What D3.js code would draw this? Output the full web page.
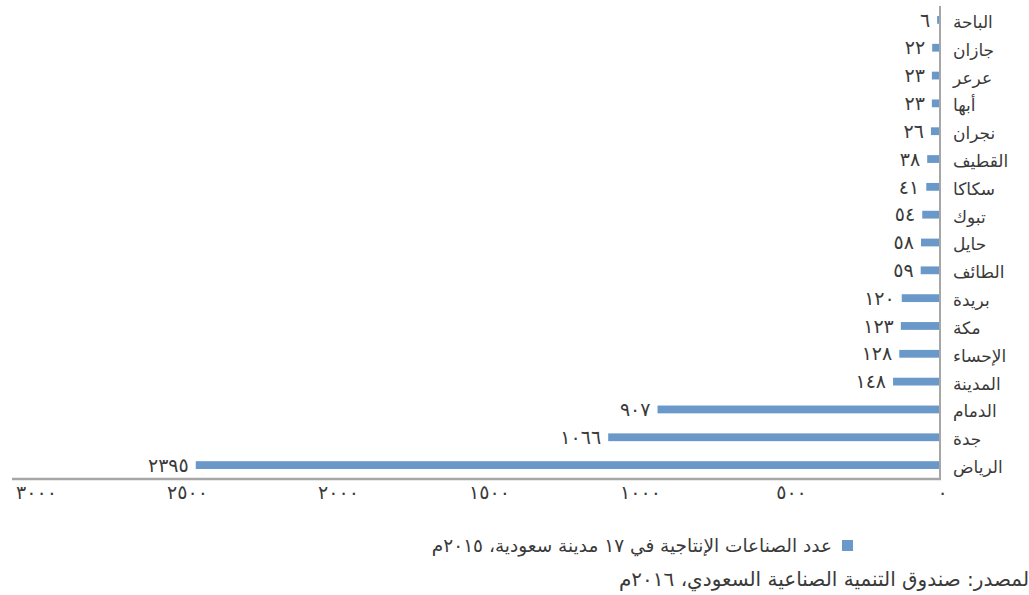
<!DOCTYPE html>
<html lang="ar">
<head>
<meta charset="utf-8">
<script src="https://cdn.jsdelivr.net/npm/d3@7"></script>
<style>
  html, body { margin: 0; padding: 0; background: #ffffff; }
  svg { display: block; font-family: "DejaVu Sans", sans-serif; }
</style>
</head>
<body>
<svg id="chart" width="1029" height="595"></svg>
<script>
// Cities, top to bottom
const cities = ["الباحة", "جازان", "عرعر", "أبها", "نجران", "القطيف", "سكاكا", "تبوك", "حايل", "الطائف",
                "بريدة", "مكة", "الإحساء", "المدينة", "الدمام", "جدة", "الرياض"];
// Number of productive industries per city
const counts = [6, 22, 23, 23, 26, 38, 41, 54, 58, 59, 120, 123, 128, 148, 907, 1066, 2395];
// Value axis ticks
const tickValues = [0, 500, 1000, 1500, 2000, 2500, 3000];

const legendLabel = "عدد الصناعات الإنتاجية في ١٧ مدينة سعودية، ٢٠١٥م";
const sourceLabel = "لمصدر: صندوق التنمية الصناعية السعودي، ٢٠١٦م";

const arDigits = "٠١٢٣٤٥٦٧٨٩";
const toArabic = n => String(n).replace(/\d/g, d => arDigits[+d]);

const svg = d3.select("#chart");
const barColor = "#6a98c9";
const axisColor = "#a6a6a6";
const textColor = "#3a3a3a";

// Bars grow leftward from the axis at the right
const x = d3.scaleLinear().domain([0, 3000]).range([939, 8]);
const xLabels = d3.scaleLinear().domain([0, 3000]).range([942, 36]);
const y = d3.scaleBand().domain(cities).range([6, 479]).paddingInner(0.72).paddingOuter(0.36);

const rows = cities.map((c, i) => ({ city: c, value: counts[i] }));

// Bars
svg.append("g").selectAll("rect")
  .data(rows)
  .join("rect")
  .attr("x", d => x(d.value))
  .attr("y", d => y(d.city))
  .attr("width", d => x(0) - x(d.value))
  .attr("height", y.bandwidth())
  .attr("fill", barColor);

// Value labels
svg.append("g").selectAll("text")
  .data(rows)
  .join("text")
  .attr("x", d => x(d.value) - 7)
  .attr("y", d => y(d.city) + y.bandwidth() / 2)
  .attr("dy", "0.35em")
  .attr("text-anchor", "end")
  .attr("font-size", 19)
  .attr("fill", textColor)
  .text(d => toArabic(d.value));

// Category labels, right of the axis
svg.append("g").selectAll("text")
  .data(cities)
  .join("text")
  .attr("x", 953)
  .attr("y", d => y(d) + y.bandwidth() / 2 + 2)
  .attr("dy", "0.35em")
  .attr("direction", "rtl")
  .attr("text-anchor", "end")
  .attr("font-size", 17)
  .attr("fill", textColor)
  .text(d => d);

// Axis lines
svg.append("line")
  .attr("x1", 940).attr("x2", 940)
  .attr("y1", 6).attr("y2", 480)
  .attr("stroke", axisColor).attr("stroke-width", 2);
svg.append("line")
  .attr("x1", 12).attr("x2", 941)
  .attr("y1", 479).attr("y2", 479)
  .attr("stroke", axisColor).attr("stroke-width", 2.5);

// Value axis labels
const axis = d3.axisBottom(xLabels)
  .tickValues(tickValues)
  .tickSize(0)
  .tickPadding(0)
  .tickFormat(toArabic);
const gAxis = svg.append("g").attr("transform", "translate(0,485)").call(axis);
gAxis.select(".domain").remove();
gAxis.selectAll("text")
  .attr("font-family", "DejaVu Sans, sans-serif")
  .attr("font-size", 19)
  .attr("fill", textColor);

// Legend
svg.append("rect")
  .attr("x", 842).attr("y", 540)
  .attr("width", 11).attr("height", 11)
  .attr("fill", barColor);
svg.append("text")
  .attr("x", 832).attr("y", 552)
  .attr("direction", "rtl")
  .attr("text-anchor", "start")
  .attr("font-size", 18.5)
  .attr("fill", textColor)
  .text(legendLabel);

// Source note
svg.append("text")
  .attr("x", 1029).attr("y", 586)
  .attr("direction", "rtl")
  .attr("text-anchor", "start")
  .attr("font-size", 20)
  .attr("fill", textColor)
  .text(sourceLabel);
</script>
</body>
</html>
